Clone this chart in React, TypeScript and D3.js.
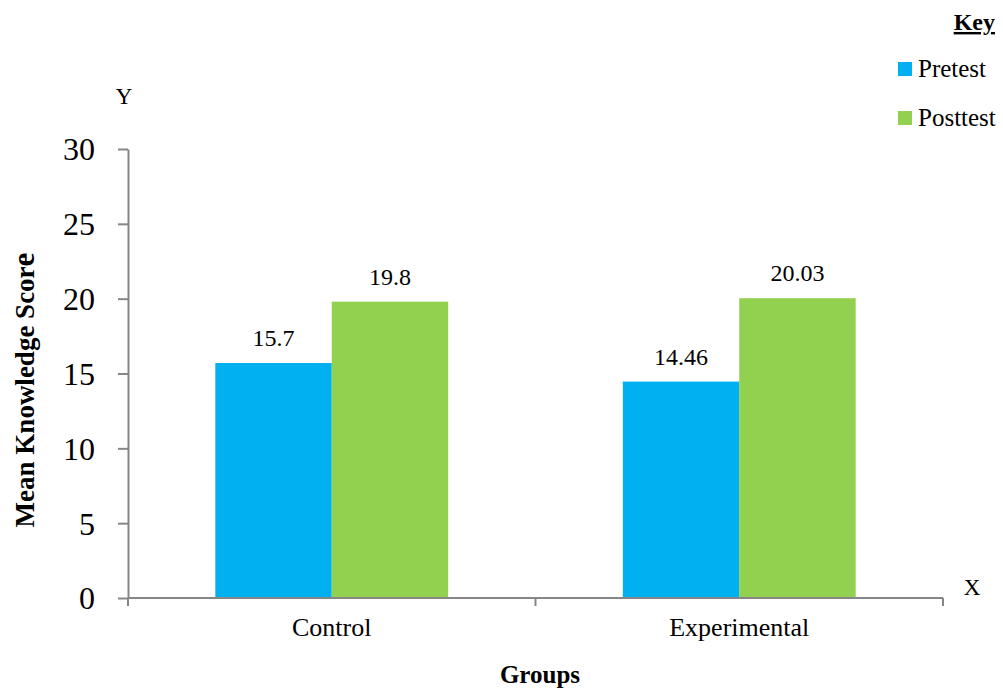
import React, { useEffect, useRef } from 'react';
import * as d3 from 'd3';

const groups = ['Control', 'Experimental'];
const seriesNames = ['Pretest', 'Posttest'];
const pretest = [15.7, 14.46];
const posttest = [19.8, 20.03];
const valueLabels = [['15.7', '19.8'], ['14.46', '20.03']];
const yTicks = [0, 5, 10, 15, 20, 25, 30];
const colors = ['#00B0F0', '#92D050'];

const App = () => {
  const ref = useRef(null);

  useEffect(() => {
    const svg = d3.select(ref.current);
    svg.selectAll('*').remove();
    const font = '"Liberation Serif", "Times New Roman", "DejaVu Serif", serif';
    const left = 128, right = 943, top = 149, bottom = 598;
    const axisColor = '#868686';

    const x = d3.scaleBand().domain(groups).range([left, right]).paddingInner(0).paddingOuter(0);
    const inner = d3.scaleBand().domain(seriesNames).range([0, x.bandwidth()]).paddingInner(0).paddingOuter(0.75);
    const y = d3.scaleLinear().domain([0, 30]).range([bottom, top]);

    const data = groups.map((g, i) => ({ group: g, values: [pretest[i], posttest[i]], labels: valueLabels[i] }));

    const gGroup = svg.selectAll('.grp').data(data).enter().append('g')
      .attr('transform', d => `translate(${x(d.group)},0)`);

    gGroup.selectAll('rect')
      .data(d => d.values.map((v, j) => ({ v, s: seriesNames[j], c: colors[j] })))
      .enter().append('rect')
      .attr('x', d => inner(d.s)!)
      .attr('width', inner.bandwidth())
      .attr('y', d => y(d.v))
      .attr('height', d => bottom - y(d.v))
      .attr('fill', d => d.c);

    gGroup.selectAll('text.val')
      .data(d => d.values.map((v, j) => ({ v, s: seriesNames[j], l: d.labels[j] })))
      .enter().append('text')
      .attr('x', d => inner(d.s)! + inner.bandwidth() / 2)
      .attr('y', d => y(d.v) - 17)
      .attr('text-anchor', 'middle')
      .style('font-family', font)
      .attr('font-size', 24)
      .text(d => d.l);

    // y axis
    const yAxis = svg.append('g').attr('transform', `translate(${left},0)`)
      .call(d3.axisLeft(y).tickValues(yTicks).tickSize(10).tickSizeOuter(0).tickPadding(23));
    yAxis.attr('font-family', null);
    yAxis.select('.domain').attr('stroke', axisColor).attr('stroke-width', 2);
    yAxis.selectAll('line').attr('stroke', axisColor).attr('stroke-width', 2);
    yAxis.selectAll('text').style('font-family', font).attr('font-size', 32).attr('fill', '#000').attr('dy', '0.34em');

    // x axis
    const xG = svg.append('g').attr('transform', `translate(0,${bottom})`);
    xG.append('line').attr('x1', left).attr('x2', right).attr('stroke', axisColor).attr('stroke-width', 2);
    const edges = [left, ...groups.map(g => x(g)! + x.bandwidth())];
    xG.selectAll('line.tk').data(edges).enter().append('line')
      .attr('x1', d => d).attr('x2', d => d).attr('y1', 0).attr('y2', 8)
      .attr('stroke', axisColor).attr('stroke-width', 2);
    xG.selectAll('text').data(groups).enter().append('text')
      .attr('x', d => x(d)! + x.bandwidth() / 2)
      .attr('y', 38)
      .attr('text-anchor', 'middle')
      .style('font-family', font)
      .attr('font-size', 26)
      .text(d => d);

    // titles
    svg.append('text').attr('x', 540).attr('y', 683).attr('text-anchor', 'middle')
      .style('font-family', font).attr('font-size', 25).attr('font-weight', 'bold').text('Groups');
    const yt = svg.append('text').attr('transform', `translate(34,390) rotate(-90)`).attr('text-anchor', 'middle')
      .style('font-family', font).attr('font-size', 27).attr('font-weight', 'bold');
    yt.append('tspan').text('Mean Knowledge Scor');
    yt.append('tspan').attr('font-size', 31).text('e');
    svg.append('text').attr('x', 124).attr('y', 104).attr('text-anchor', 'middle')
      .style('font-family', font).attr('font-size', 23).text('Y');
    svg.append('text').attr('x', 972).attr('y', 595).attr('text-anchor', 'middle')
      .style('font-family', font).attr('font-size', 23).text('X');

    // legend
    svg.append('text').attr('x', 995).attr('y', 30).attr('text-anchor', 'end')
      .style('font-family', font).attr('font-size', 24).attr('font-weight', 'bold')
      .attr('text-decoration', 'underline').text('Key');
    const leg = svg.selectAll('.leg').data(seriesNames).enter().append('g')
      .attr('transform', (d, i) => `translate(898,${62 + i * 49})`);
    leg.append('rect').attr('width', 14).attr('height', 14).attr('fill', (d, i) => colors[i]);
    leg.append('text').attr('x', 20).attr('y', 15).style('font-family', font).attr('font-size', 25).text(d => d);
  }, []);

  return <svg ref={ref} width={1003} height={690} style={{ position: 'absolute', left: 0, top: 0 }} />;
};

export default App;
